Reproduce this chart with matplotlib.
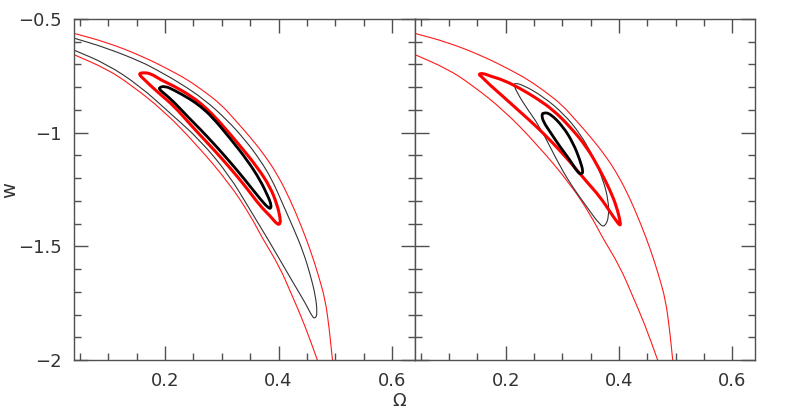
#!/usr/bin/env python

import matplotlib
matplotlib.use('Agg')
from matplotlib import pyplot as plt
from matplotlib.path import Path
from matplotlib.patches import PathPatch
from matplotlib.ticker import MultipleLocator, FuncFormatter

# outer red band, same in both panels (two open branches)
red_out_up_x = [0.000, 0.0394, 0.0977, 0.1594, 0.2088, 0.2406, 0.2706, 0.2988, 0.3235, 0.350,
                0.3765, 0.3994, 0.4206, 0.4392, 0.4559, 0.470, 0.4823, 0.4894, 0.4947, 0.4994]
red_out_up_w = [-0.536, -0.563, -0.6025, -0.6628, -0.7244, -0.7684, -0.8212, -0.876, -0.9444, -1.0191,
                -1.1027, -1.1907, -1.2963, -1.4063, -1.5163, -1.6263, -1.7363, -1.8682, -2.000, -2.100]
red_out_lo_x = [0.000, 0.0394, 0.0977, 0.1382, 0.1965, 0.2547, 0.3129, 0.350, 0.3712,
                0.4012, 0.4241, 0.4453, 0.4682, 0.4827]
red_out_lo_w = [-0.613, -0.6562, -0.720, -0.786, -0.9004, -1.0499, -1.2215, -1.3623, -1.4635,
                -1.5867, -1.7187, -1.8419, -2.000, -2.100]

# left panel: thin black (open to the left), thick red, thick black
blk_thin_L_x = [0.030, 0.0394, 0.0977, 0.1594, 0.1859, 0.2265, 0.2706, 0.3094, 0.3412, 0.3676,
                0.3888, 0.4065, 0.4276, 0.4435, 0.4559, 0.4647, 0.4682, 0.4647,
                0.4594, 0.4471, 0.4259, 0.3853, 0.350, 0.3129, 0.2618, 0.2088, 0.1559,
                0.0977, 0.0394, 0.030]
blk_thin_L_w = [-0.577, -0.5836, -0.6276, -0.6892, -0.7244, -0.7816, -0.8564, -0.9444, -1.0323, -1.1203,
                -1.2083, -1.3095, -1.4283, -1.5251, -1.6263, -1.7143, -1.7935, -1.8177,
                -1.811, -1.7495, -1.6615, -1.4855, -1.3403, -1.1863, -1.0323, -0.9136, -0.7948,
                -0.698, -0.6364, -0.626]

red_thick_L_x = [0.1532, 0.1612, 0.1753, 0.1929, 0.2159, 0.2459, 0.2688, 0.2935, 0.3323, 0.3623,
                 0.3853, 0.3976, 0.4029, 0.4029,
                 0.3976, 0.3853, 0.3676, 0.3412, 0.3147, 0.2882, 0.2618, 0.2441, 0.2159,
                 0.1912, 0.1735, 0.1647]
red_thick_L_w = [-0.742, -0.7354, -0.7398, -0.7684, -0.7948, -0.8388, -0.8828, -0.9444, -1.058, -1.1511,
                 -1.2391, -1.3183, -1.3755, -1.4019,
                 -1.4041, -1.3667, -1.3227, -1.2347, -1.1555, -1.0807, -1.0103, -0.962, -0.8828,
                 -0.830, -0.7904, -0.7684]

blk_thick_L_x = [0.1894, 0.200, 0.2159, 0.2441, 0.2618, 0.2829, 0.3147, 0.3447, 0.3676, 0.3818,
                 0.3861, 0.387,
                 0.3818, 0.3676, 0.3412, 0.3147, 0.2882, 0.2618, 0.2441, 0.2159, 0.200,
                 0.1912]
blk_thick_L_w = [-0.8014, -0.7948, -0.8124, -0.852, -0.8828, -0.930, -1.025, -1.1203, -1.2083, -1.2831,
                 -1.3095, -1.3337,
                 -1.3315, -1.2919, -1.2083, -1.1291, -1.0543, -0.9839, -0.940, -0.8652, -0.830,
                 -0.8124]

# right panel: thick red, thin black, thick black
red_thick_R_x = [0.1517, 0.1605, 0.1723, 0.1958, 0.2252, 0.2547, 0.284, 0.3135, 0.3429, 0.3664,
                 0.3841, 0.3959, 0.4029, 0.4017,
                 0.3929, 0.3841, 0.3664, 0.3429, 0.3135, 0.284, 0.2547, 0.2252, 0.1958,
                 0.1723, 0.1576]
red_thick_R_w = [-0.742, -0.7389, -0.7508, -0.7684, -0.8049, -0.8489, -0.9004, -0.9738, -1.0618, -1.1643,
                 -1.2523, -1.3258, -1.3988, -1.4094,
                 -1.3799, -1.3478, -1.2818, -1.2158, -1.1278, -1.0469, -0.9738, -0.9078, -0.8418,
                 -0.7904, -0.7538]

blk_thin_R_x = [0.2134, 0.2311, 0.2664, 0.3016, 0.3311, 0.3546, 0.3722, 0.3811, 0.3823, 0.3752,
                0.3664, 0.3429, 0.3135, 0.290, 0.2605, 0.2311, 0.2164]
blk_thin_R_w = [-0.7802, -0.7904, -0.8418, -0.9149, -1.0029, -1.1058, -1.2083, -1.2963, -1.3698, -1.4138,
                -1.4063, -1.3258, -1.2229, -1.1203, -0.9738, -0.8709, -0.8049]

blk_thick_R_x = [0.2664, 0.2782, 0.3016, 0.3193, 0.3311, 0.3369, 0.3341, 0.3281, 0.3135, 0.2958,
                 0.2782, 0.2664, 0.2635]
blk_thick_R_w = [-0.9122, -0.9149, -0.9738, -1.0469, -1.1203, -1.1718, -1.1819, -1.1788, -1.1203, -1.0618,
                 -0.9958, -0.9518, -0.9224]

x_range = (0.04, 0.64)
w_range = (-2.0, -0.5)


def fmt(v, pos):
    return ('%g' % v).replace('-', '\u2212')


def mid(a, b):
    return ((a[0] + b[0]) / 2.0, (a[1] + b[1]) / 2.0)


def contour(ax, xs, ws, closed, color, lw):
    # quadratic bezier through the midpoints, so the read points give a smooth line
    pts = list(zip(xs, ws))
    n = len(pts)
    if closed:
        verts = [mid(pts[-1], pts[0])]
        codes = [Path.MOVETO]
        for i in range(n):
            verts += [pts[i], mid(pts[i], pts[(i + 1) % n])]
            codes += [Path.CURVE3, Path.CURVE3]
        verts.append(verts[0])
        codes.append(Path.CLOSEPOLY)
    else:
        verts = [pts[0]]
        codes = [Path.MOVETO]
        for i in range(1, n - 1):
            verts += [pts[i], mid(pts[i], pts[i + 1])]
            codes += [Path.CURVE3, Path.CURVE3]
        verts.append(pts[-1])
        codes.append(Path.LINETO)
    patch = PathPatch(Path(verts, codes), fill=False, edgecolor=color, lw=lw,
                      joinstyle='round', capstyle='round')
    ax.add_patch(patch)


def setup(ax, show_y):
    ax.set_xlim(*x_range)
    ax.set_ylim(*w_range)
    ax.xaxis.set_major_locator(MultipleLocator(0.2))
    ax.xaxis.set_minor_locator(MultipleLocator(0.05))
    ax.yaxis.set_major_locator(MultipleLocator(0.5))
    ax.yaxis.set_minor_locator(MultipleLocator(0.1))
    ax.xaxis.set_major_formatter(FuncFormatter(fmt))
    ax.yaxis.set_major_formatter(FuncFormatter(fmt))
    ax.tick_params(which='both', direction='in', top=True, right=True,
                   color='#505050', width=1.0, labelcolor='#333333')
    ax.tick_params(which='major', length=10, pad=9, labelsize=13)
    ax.tick_params(which='minor', length=5)
    if not show_y:
        ax.tick_params(labelleft=False)
    for sp in ax.spines.values():
        sp.set_color('#505050')
        sp.set_linewidth(1.0)


def main():
    fig = plt.figure(figsize=(7.97, 4.09), dpi=100)
    ax1 = fig.add_axes([74 / 797, 49 / 409, 341 / 797, 341 / 409])
    ax2 = fig.add_axes([415 / 797, 49 / 409, 340 / 797, 341 / 409])

    for ax in (ax1, ax2):
        contour(ax, red_out_up_x, red_out_up_w, False, '#ff1a1a', 0.8)
        contour(ax, red_out_lo_x, red_out_lo_w, False, '#ff1a1a', 0.8)

    contour(ax1, blk_thin_L_x, blk_thin_L_w, False, '#333333', 0.8)
    contour(ax1, red_thick_L_x, red_thick_L_w, True, '#ff0000', 2.2)
    contour(ax1, blk_thick_L_x, blk_thick_L_w, True, 'black', 2.0)

    contour(ax2, blk_thin_R_x, blk_thin_R_w, True, '#333333', 0.8)
    contour(ax2, red_thick_R_x, red_thick_R_w, True, '#ff0000', 2.2)
    contour(ax2, blk_thick_R_x, blk_thick_R_w, True, 'black', 2.0)

    setup(ax1, True)
    setup(ax2, False)

    fig.text(10 / 797, 1 - 190 / 409, 'w', rotation=90, fontsize=14,
             ha='center', va='center', color='#333333')
    fig.text(399 / 797, 1 - 406 / 409, '\u03a9', fontsize=13,
             ha='center', va='baseline', color='#333333')

    fig.savefig('out.png', dpi=100)
    plt.close(fig)


if __name__ == '__main__':
    main()
